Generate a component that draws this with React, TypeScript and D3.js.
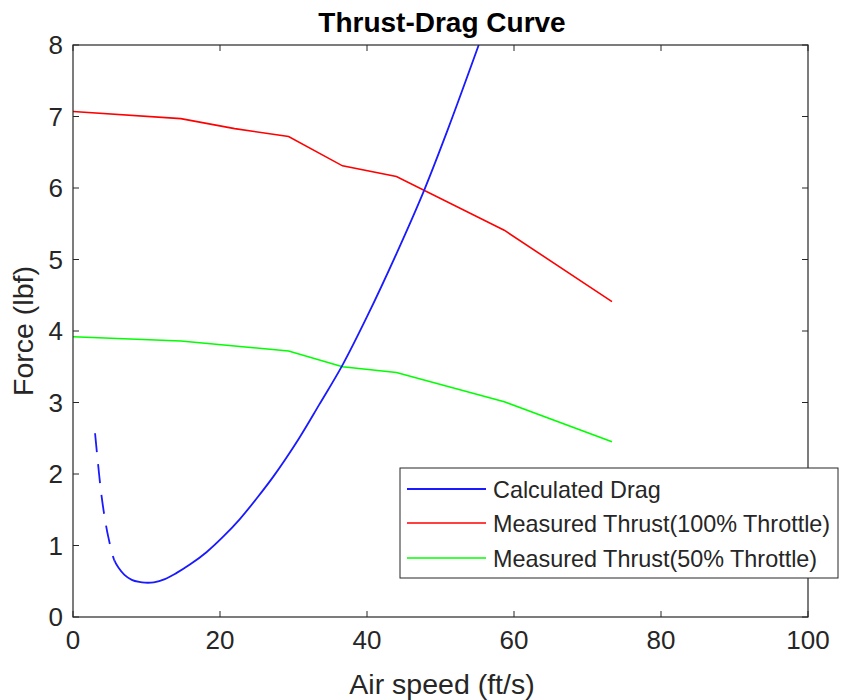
import React from "react";
import * as d3 from "d3";

const speeds = [0, 14.67, 22, 29.33, 36.67, 44, 58.67, 73.33];
const thrust100 = [7.07, 6.97, 6.83, 6.72, 6.31, 6.16, 5.41, 4.41];
const thrust50 = [3.92, 3.86, 3.79, 3.72, 3.5, 3.42, 3.01, 2.45];

// Calculated drag (dashed segment below dashEnd)
const dragSpeed = [3.0, 3.4, 3.85, 4.3, 4.8, 5.6, 6.2, 7.0, 8.0, 9.0, 9.8, 11, 12.5, 14, 16, 18.2, 20.5, 22.7, 25, 27.3, 30.7, 33.5, 36.7, 40, 44, 47.7, 51, 55.2];
const drag = [2.57, 2.15, 1.72, 1.4, 1.12, 0.8, 0.69, 0.59, 0.52, 0.49, 0.48, 0.485, 0.53, 0.61, 0.74, 0.91, 1.13, 1.37, 1.66, 1.97, 2.49, 2.97, 3.53, 4.2, 5.08, 5.95, 6.82, 8.0];
const dashEnd = 5.6;

const xTicks = [0, 20, 40, 60, 80, 100];
const yTicks = [0, 1, 2, 3, 4, 5, 6, 7, 8];
const legendLabels = ["Calculated Drag", "Measured Thrust(100% Throttle)", "Measured Thrust(50% Throttle)"];
const colors = ["#1a1aff", "#ff0000", "#00ff00"];

export default function App() {
  const W = 842, H = 700;
  const L = 73, R = 808, T = 45, B = 617;
  const x = d3.scaleLinear().domain([0, 100]).range([L, R]);
  const y = d3.scaleLinear().domain([0, 8]).range([B, T]);
  const font = "'Liberation Sans', Arial, Helvetica, sans-serif";
  const axisColor = "#262626";

  const line = d3
    .line<[number, number]>()
    .x((d) => x(d[0]))
    .y((d) => y(d[1]))
    .curve(d3.curveCatmullRom.alpha(0.5));
  const poly = d3
    .line<[number, number]>()
    .x((d) => x(d[0]))
    .y((d) => y(d[1]));

  const zip = (a: number[], b: number[]) => a.map((v, i) => [v, b[i]] as [number, number]);
  const dragPath = line(zip(dragSpeed, drag)) || "";

  const tick = 6;
  const legX = 400, legY = 468, legW = 438, legH = 110;
  const rowYs = [489, 523, 558];
  const tickFs = 26;
  const xd = x(dashEnd);

  return (
    <svg width={W} height={H} style={{ position: "absolute", left: 0, top: 0, background: "#fff" }}>
      <defs>
        <clipPath id="plotclip">
          <rect x={L} y={T} width={R - L} height={B - T} />
        </clipPath>
        <clipPath id="dashclip">
          <rect x={L} y={T} width={xd - L} height={B - T} />
        </clipPath>
        <clipPath id="solidclip">
          <rect x={xd} y={T} width={R - xd} height={B - T} />
        </clipPath>
      </defs>
      <rect x={0} y={0} width={W} height={H} fill="#fff" />
      <g clipPath="url(#plotclip)" fill="none" strokeWidth={1.6}>
        <path d={poly(zip(speeds, thrust100)) || ""} stroke={colors[1]} />
        <path d={poly(zip(speeds, thrust50)) || ""} stroke={colors[2]} />
      </g>
      <g fill="none" strokeWidth={1.8}>
        <path d={dragPath} stroke={colors[0]} strokeDasharray="19 12" clipPath="url(#dashclip)" />
        <path d={dragPath} stroke={colors[0]} clipPath="url(#solidclip)" />
      </g>
      <rect x={L} y={T} width={R - L} height={B - T} fill="none" stroke={axisColor} strokeWidth={1.2} />
      {xTicks.map((t) => (
        <g key={"x" + t}>
          <line x1={x(t)} x2={x(t)} y1={B} y2={B - tick} stroke={axisColor} />
          <line x1={x(t)} x2={x(t)} y1={T} y2={T + tick} stroke={axisColor} />
          <text x={x(t)} y={649} textAnchor="middle" fontFamily={font} fontSize={tickFs} fill={axisColor}>
            {t}
          </text>
        </g>
      ))}
      {yTicks.map((t) => (
        <g key={"y" + t}>
          <line x1={L} x2={L + tick} y1={y(t)} y2={y(t)} stroke={axisColor} />
          <line x1={R} x2={R - tick} y1={y(t)} y2={y(t)} stroke={axisColor} />
          <text x={63} y={y(t) + 9.3} textAnchor="end" fontFamily={font} fontSize={tickFs} fill={axisColor}>
            {t}
          </text>
        </g>
      ))}
      <text x={442} y={32} textAnchor="middle" fontFamily={font} fontSize={28} fontWeight="bold" fill="#000">
        Thrust-Drag Curve
      </text>
      <text x={442} y={694} textAnchor="middle" fontFamily={font} fontSize={28.5} fill={axisColor}>
        Air speed (ft/s)
      </text>
      <text
        transform={`translate(33, ${(T + B) / 2}) rotate(-90)`}
        textAnchor="middle"
        fontFamily={font}
        fontSize={28.5}
        fill={axisColor}
      >
        Force (lbf)
      </text>
      <rect x={legX} y={legY} width={legW} height={legH} fill="#fff" stroke={axisColor} strokeWidth={1} />
      {legendLabels.map((lab, i) => (
        <g key={lab}>
          <line x1={407} x2={486} y1={rowYs[i]} y2={rowYs[i]} stroke={colors[i]} strokeWidth={i === 0 ? 1.8 : 1.6} />
          <text x={493} y={rowYs[i] + 9} fontFamily={font} fontSize={23.4} fill={axisColor}>
            {lab}
          </text>
        </g>
      ))}
    </svg>
  );
}
